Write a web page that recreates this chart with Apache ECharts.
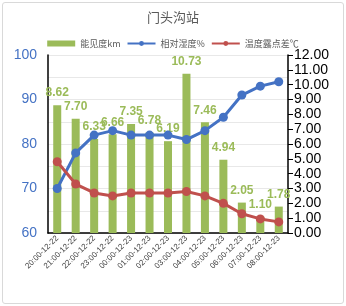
<!DOCTYPE html>
<html>
<head>
<meta charset="utf-8">
<script src="https://cdn.jsdelivr.net/npm/echarts@6/dist/echarts.min.js"></script>
<style>
  html, body { margin: 0; padding: 0; background: #fff; }
  #frame { position: absolute; left: 2px; top: 2px; width: 340px; height: 300px; border: 1px solid #d9d9d9; border-radius: 3px; }
  #main { width: 346px; height: 306px; }
</style>
</head>
<body>
<div id="frame"></div>
<div id="main"></div>
<script>
// data
var categories = ['20:00-12-22', '21:00-12-22', '22:00-12-22', '23:00-12-22', '00:00-12-23', '01:00-12-23', '02:00-12-23',
  '03:00-12-23', '04:00-12-23', '05:00-12-23', '06:00-12-23', '07:00-12-23', '08:00-12-23'];
var visibility = [8.62, 7.70, 6.33, 6.66, 7.35, 6.78, 6.19, 10.73, 7.46, 4.94, 2.05, 1.10, 1.78];
var humidity = [70, 78, 82, 83, 82, 82, 82, 81, 83, 86, 91, 93, 94];
var dewGap = [4.8, 3.3, 2.7, 2.5, 2.7, 2.7, 2.7, 2.8, 2.5, 2.0, 1.3, 0.95, 0.75];

var chartDom = document.getElementById('main');
var myChart = echarts.init(chartDom);
var font = '"Noto Sans CJK SC", "Noto Sans", sans-serif';

var option = {
  animation: false,
  title: {
    text: '门头沟站',
    left: 'center',
    top: 6,
    textStyle: { color: '#595959', fontSize: 13, fontWeight: 'normal', fontFamily: font }
  },
  legend: {
    top: 34,
    left: 'center',
    itemGap: 6,
    itemWidth: 28,
    itemHeight: 6,
    textStyle: { color: '#595959', fontSize: 9, fontFamily: font },
    data: [
      { name: '能见度km', icon: 'rect' },
      { name: '相对湿度%' },
      { name: '温度露点差℃' }
    ]
  },
  grid: { left: 48, right: 58, top: 55, bottom: 73, containLabel: false },
  xAxis: {
    type: 'category',
    data: categories,
    axisLine: { lineStyle: { color: '#000', width: 1.5 } },
    axisTick: { show: false },
    axisLabel: { rotate: 45, fontSize: 8, color: '#404040', margin: 4, interval: 0, fontFamily: 'Liberation Sans' }
  },
  yAxis: [
    {
      type: 'value',
      min: 60,
      max: 100,
      interval: 5,
      axisLine: { show: true, lineStyle: { color: '#000', width: 1.5 } },
      axisTick: { show: false },
      splitLine: { lineStyle: { color: '#e8e8e8' } },
      axisLabel: {
        color: '#4472C4',
        fontSize: 14,
        margin: 11,
        fontFamily: 'Liberation Sans',
        formatter: function (v) { return v % 10 === 0 ? v : ''; }
      }
    },
    {
      type: 'value',
      min: 0,
      max: 12,
      interval: 1,
      axisLine: { show: true, lineStyle: { color: '#000', width: 1.5 } },
      axisTick: { show: true, length: 5, lineStyle: { color: '#000' } },
      splitLine: { show: false },
      axisLabel: {
        color: '#000',
        fontSize: 14,
        margin: 6,
        fontFamily: 'Liberation Sans',
        formatter: function (v) { return v.toFixed(2); }
      }
    }
  ],
  series: [
    {
      name: '能见度km',
      type: 'bar',
      yAxisIndex: 1,
      data: visibility,
      barWidth: 8,
      itemStyle: { color: '#9BBB59' },
      label: {
        show: true,
        position: 'top',
        distance: 6,
        color: '#9BBB59',
        fontWeight: 'bold',
        fontSize: 12,
        fontFamily: 'Liberation Sans',
        formatter: function (p) { return p.value.toFixed(2); }
      },
      z: 1
    },
    {
      name: '相对湿度%',
      type: 'line',
      yAxisIndex: 0,
      data: humidity,
      symbol: 'circle',
      symbolSize: 9,
      lineStyle: { color: '#4472C4', width: 3 },
      itemStyle: { color: '#4472C4' },
      z: 3
    },
    {
      name: '温度露点差℃',
      type: 'line',
      yAxisIndex: 1,
      data: dewGap,
      symbol: 'circle',
      symbolSize: 9,
      lineStyle: { color: '#C0504D', width: 3 },
      itemStyle: { color: '#C0504D' },
      z: 3
    }
  ]
};

option && myChart.setOption(option);
</script>
</body>
</html>
